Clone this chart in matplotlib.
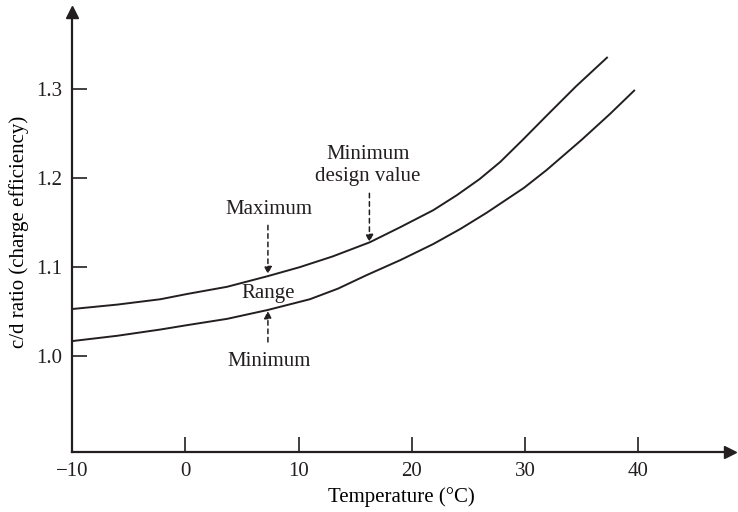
import matplotlib
matplotlib.use("Agg")
import matplotlib.pyplot as plt

# values
temp_upper = [-10, -6.0, -2.2, 0.2, 3.7, 7.3, 10.1, 13.0, 16.3, 19.0, 21.9, 24.0, 26.0, 27.8, 29.8, 31.9, 34.5, 37.3]
ratio_upper = [1.053, 1.058, 1.064, 1.070, 1.078, 1.090, 1.100, 1.112, 1.128, 1.145, 1.164, 1.181, 1.199, 1.218, 1.243, 1.270, 1.303, 1.336]

temp_lower = [-10, -6.0, -2.2, 0.2, 3.7, 7.3, 11.0, 13.5, 16.0, 19.0, 21.9, 24.3, 26.6, 29.9, 31.9, 35.0, 37.5, 39.7]
ratio_lower = [1.017, 1.023, 1.030, 1.035, 1.042, 1.052, 1.064, 1.076, 1.091, 1.108, 1.126, 1.143, 1.161, 1.189, 1.209, 1.243, 1.272, 1.299]

x_ticks = [-10, 0, 10, 20, 30, 40]
y_ticks = [1.0, 1.1, 1.2, 1.3]
y_tick_labels = ["1.0", "1.1", "1.2", "1.3"]

INK = "#231f20"
plt.rcParams.update({
    "font.family": ["Liberation Serif", "DejaVu Serif"],
    "font.size": 15,
    "text.color": INK,
    "axes.edgecolor": INK,
    "xtick.color": INK,
    "ytick.color": INK,
})

fig = plt.figure(figsize=(7.38, 5.12), dpi=100)
ax = fig.add_axes([72 / 738, 60 / 512, 658 / 738, 440 / 512])

ax.plot(temp_upper, ratio_upper, color=INK, lw=1.4, solid_capstyle="butt")
ax.plot(temp_lower, ratio_lower, color=INK, lw=1.4, solid_capstyle="butt")

ax.set_xlim(-10, 48.1)
ax.set_ylim(0.8925, 1.3865)

# arrow-style axes
for side in ["top", "right"]:
    ax.spines[side].set_visible(False)
for side in ["left", "bottom"]:
    ax.spines[side].set_linewidth(1.6)
ax.plot(1, 0, ">", color=INK, ms=8, transform=ax.transAxes, clip_on=False)
ax.plot(0, 1, "^", color=INK, ms=8, transform=ax.transAxes, clip_on=False)

ax.set_xticks(x_ticks)
ax.set_xticklabels(["\u221210" if t < 0 else str(t) for t in x_ticks])
ax.set_yticks(y_ticks)
ax.set_yticklabels(y_tick_labels)
ax.tick_params(direction="in", length=11, width=1.2, pad=7)

ax.set_xlabel("Temperature (\u00b0C)")
ax.xaxis.set_label_coords(0.5, -0.08)
ax.set_ylabel("c/d ratio (charge efficiency)")
ax.yaxis.set_label_coords(-0.065, 0.5)

dash = dict(arrowstyle="-|>", color=INK, lw=1.1, linestyle=(0, (3, 2.5)),
            mutation_scale=11, shrinkA=0, shrinkB=0)

ax.text(7.4, 1.165, "Maximum", ha="center", va="center")
ax.annotate("", xy=(7.3, 1.092), xytext=(7.3, 1.147), arrowprops=dash)
ax.text(7.3, 1.071, "Range", ha="center", va="center")
ax.annotate("", xy=(7.3, 1.051), xytext=(7.3, 1.016), arrowprops=dash)
ax.text(7.4, 0.994, "Minimum", ha="center", va="center")

ax.text(16.1, 1.214, "Minimum\ndesign value", ha="center", va="center", linespacing=1.25)
ax.annotate("", xy=(16.26, 1.128), xytext=(16.26, 1.183), arrowprops=dash)

fig.savefig("out.png", dpi=100)
